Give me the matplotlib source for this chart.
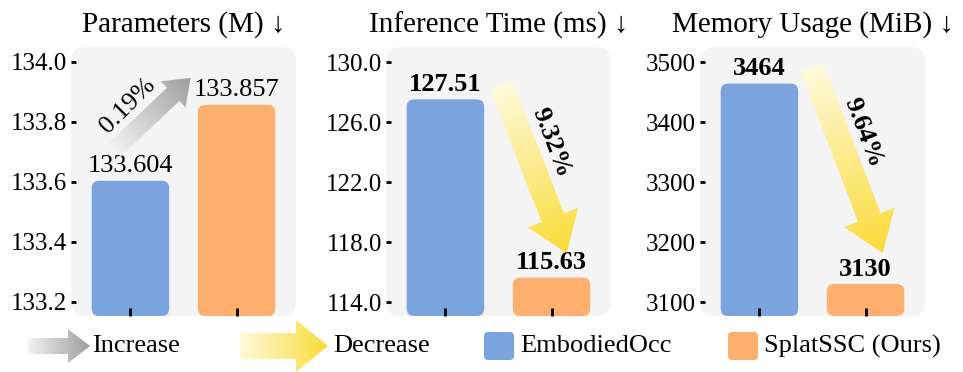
import numpy as np
import matplotlib.pyplot as plt
from matplotlib.patches import FancyBboxPatch, Polygon

plt.rcParams['font.family'] = ['Liberation Serif', 'DejaVu Serif']

# data
methods = ['EmbodiedOcc', 'SplatSSC (Ours)']
params = [133.604, 133.857]
inf_time = [127.51, 115.63]
memory = [3464, 3130]
titles = ['Parameters (M) \u2193', 'Inference Time (ms) \u2193', 'Memory Usage (MiB) \u2193']
changes = ['0.19%', '9.32%', '9.64%']
yticks = [[133.2, 133.4, 133.6, 133.8, 134.0],
          [114.0, 118.0, 122.0, 126.0, 130.0],
          [3100, 3200, 3300, 3400, 3500]]
ytick_fmt = ['{:.1f}', '{:.1f}', '{:.0f}']
val_fmt = ['{:.3f}', '{:.2f}', '{:.0f}']
ylims = [(133.153, 134.05), (113.07, 131.0), (3076.7, 3525)]

blue = '#7ba3de'
orange = '#fdb06e'
panel_bg = '#f4f4f5'

W, H = 963, 372
fig = plt.figure(figsize=(W / 100, H / 100), dpi=100)
bg = fig.add_axes([0, 0, 1, 1], zorder=0)
bg.set_xlim(0, W)
bg.set_ylim(0, H)
bg.axis('off')
fg = fig.add_axes([0, 0, 1, 1], zorder=3)
fg.set_xlim(0, W)
fg.set_ylim(0, H)
fg.axis('off')
fg.patch.set_visible(False)


def grad_arrow(p0, p1, w, hw, hl, c0, c1):
    p0 = np.asarray(p0, float)
    p1 = np.asarray(p1, float)
    d = p1 - p0
    L = np.hypot(*d)
    u = d / L
    n = np.array([-u[1], u[0]])
    base = p1 - u * hl
    pts = np.array([p0 + n * w / 2, base + n * w / 2, base + n * hw / 2, p1,
                    base - n * hw / 2, base - n * w / 2, p0 - n * w / 2])
    poly = Polygon(pts, closed=True, fc='none', ec='none')
    fg.add_patch(poly)
    x0, y0 = pts.min(axis=0) - 2
    x1, y1 = pts.max(axis=0) + 2
    X, Y = np.meshgrid(np.linspace(x0, x1, 200), np.linspace(y0, y1, 200))
    t = np.clip(((X - p0[0]) * u[0] + (Y - p0[1]) * u[1]) / L, 0, 1)[..., None]
    img = np.array(c0) * (1 - t) + np.array(c1) * t
    im = fg.imshow(img, extent=[x0, x1, y0, y1], origin='lower',
                   interpolation='bilinear', aspect='auto')
    im.set_clip_path(poly)


gray0, gray1 = (0.95, 0.95, 0.95), (0.62, 0.62, 0.62)
yel0, yel1 = (1.0, 0.98, 0.86), (0.98, 0.86, 0.22)

series = [params, inf_time, memory]
lefts = [71, 386, 700]
pw, pb, ph = 225, 56, 269
x = np.arange(len(methods))
bar_w = 0.73

# arrow tail/tip in data coords, text position and rotation
arrows = [((-0.15, 133.707), (0.567, 133.947), 18, 36, 24, gray0, gray1),
          ((0.524, 128.47), (1.143, 117.27), 24, 54, 38, yel0, yel1),
          ((0.495, 3491.7), (1.162, 3181.7), 24, 54, 38, yel0, yel1)]
txt_pos = [(-0.02, 133.853, 45, 'normal'),
           (1.0, 124.6, -69, 'bold'),
           (0.981, 3381.7, -69, 'bold')]

for i in range(3):
    l = lefts[i]
    bg.add_patch(FancyBboxPatch((l, pb), pw, ph, boxstyle='round,pad=0,rounding_size=14',
                                fc=panel_bg, ec='none'))
    ax = fig.add_axes([l / W, pb / H, pw / W, ph / H], zorder=1)
    ax.patch.set_visible(False)
    for s in ax.spines.values():
        s.set_visible(False)
    ax.set_xlim(-0.56, 1.56)
    lo, hi = ylims[i]
    ax.set_ylim(lo, hi)
    vals = series[i]
    bars = ax.bar(x, np.array(vals) - lo, bottom=lo, width=bar_w, color=[blue, orange])
    # round the bar corners
    aspect = ((hi - lo) / ph) / (2.12 / pw)
    for b in bars:
        bx, by = b.get_xy()
        fb = FancyBboxPatch((bx, by), b.get_width(), b.get_height(),
                            boxstyle='round,pad=0,rounding_size=0.07',
                            mutation_aspect=aspect, fc=b.get_facecolor(), ec='none')
        b.remove()
        ax.add_patch(fb)
    ax.set_xticks(x)
    ax.set_xticklabels([])
    ax.tick_params(axis='x', direction='in', length=6, width=2, color='black')
    ax.set_yticks(yticks[i])
    ax.set_yticklabels([ytick_fmt[i].format(v) for v in yticks[i]], fontsize=18)
    ax.tick_params(axis='y', direction='in', length=3.5, width=2, pad=3)
    weight = 'normal' if i == 0 else 'bold'
    for xi, v in zip(x, vals):
        ax.annotate(val_fmt[i].format(v), (xi, v), xytext=(0, 15), textcoords='offset pixels',
                    ha='center', va='center', fontsize=19, fontweight=weight)
    ax.text(0.5, 1 + 22 / ph, titles[i], transform=ax.transAxes, ha='center', va='center',
            fontsize=21)

    p0, p1, w, hw, hl, c0, c1 = arrows[i]
    d0 = ax.transData.transform(p0)
    d1 = ax.transData.transform(p1)
    grad_arrow(d0, d1, w, hw, hl, c0, c1)
    tx, ty, rot, tw = txt_pos[i]
    dt = ax.transData.transform((tx, ty))
    fg.text(dt[0], dt[1], changes[i], ha='center', va='center', rotation=rot,
            fontsize=19, fontweight=tw, rotation_mode='anchor')

# legend row
ly = H - 346
grad_arrow((28, ly), (90, ly), 16, 34, 22, gray0, gray1)
fg.text(92, ly, 'Increase', ha='left', va='center', fontsize=19)
grad_arrow((240, ly), (328, ly), 26, 52, 32, yel0, yel1)
fg.text(333, ly, 'Decrease', ha='left', va='center', fontsize=19)
for sx, col, name in [(484, blue, methods[0]), (728, orange, methods[1])]:
    fg.add_patch(FancyBboxPatch((sx, ly - 14), 30, 28, boxstyle='round,pad=0,rounding_size=4',
                                fc=col, ec='none'))
    fg.text(sx + 36, ly, name, ha='left', va='center', fontsize=19)

fig.savefig('out.png', dpi=100)
